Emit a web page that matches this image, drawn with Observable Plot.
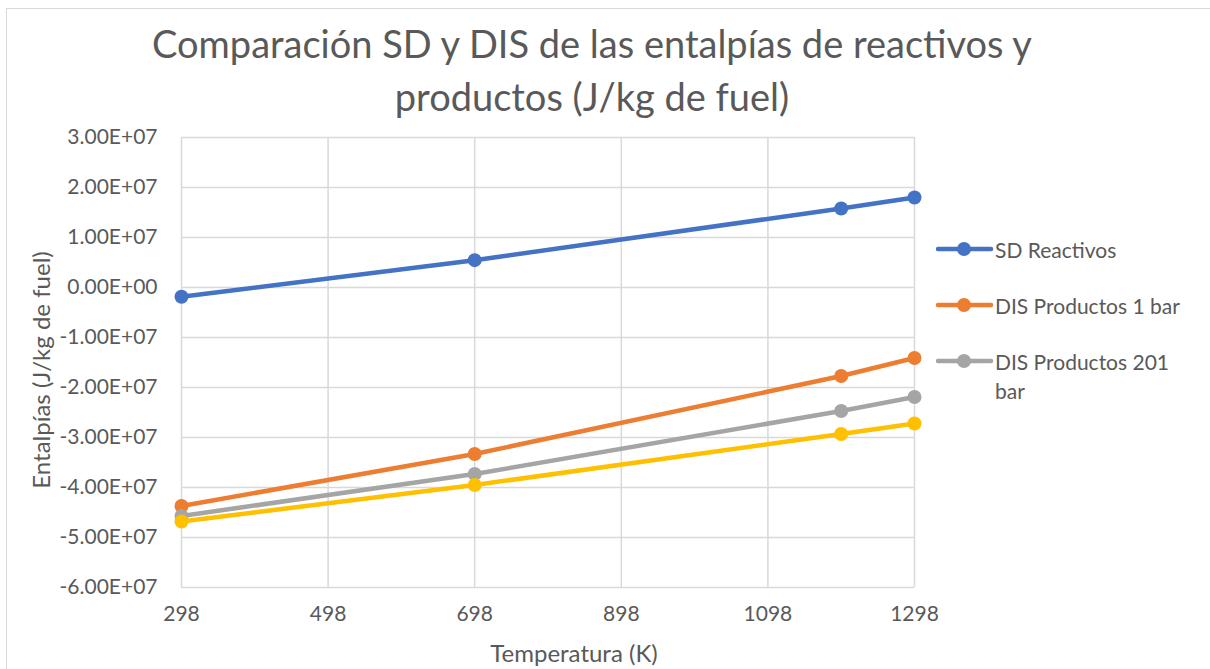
<!DOCTYPE html>
<html><head><meta charset="utf-8">
<script src="https://cdn.jsdelivr.net/npm/d3@7"></script>
<script src="https://cdn.jsdelivr.net/npm/@observablehq/plot@0.6"></script>
<style>
body{margin:0;background:#fff;font-family:Lato,"Noto Sans",sans-serif;color:#595959}
#wrap{position:relative;width:1210px;height:669px;overflow:hidden;background:#fff}
#frame{position:absolute;left:6px;top:8px;width:1240px;height:700px;border:1.5px solid #d9d9d9;box-sizing:border-box}
#chart{position:absolute;left:0;top:0}
#title{position:absolute;left:0;width:1184px;top:17px;text-align:center;font-size:38px;line-height:53px;font-weight:400;color:#595959}
#xlabel{position:absolute;left:424px;width:300px;top:638px;text-align:center;font-size:24px;color:#595959;white-space:nowrap}
#ylabel{position:absolute;left:40px;top:370px;font-size:24px;color:#595959;white-space:nowrap;transform:translate(-50%,-50%) rotate(-90deg)}
#legend{position:absolute;left:936px;top:235px}
.item{position:relative;height:56px}
.item svg{position:absolute;left:0;top:4px}
.item span{position:absolute;left:59px;top:0;font-size:21px;line-height:29px;width:200px;color:#595959}
</style></head>
<body>
<div id="wrap">
  <div id="frame"></div>
  <div id="chart"></div>
  <div id="title">Comparación SD y DIS de las entalpías de reactivos y<br>productos (J/kg de fuel)</div>
  <div id="xlabel">Temperatura (K)</div>
  <div id="ylabel">Entalpías (J/kg de fuel)</div>
  <div id="legend"></div>
</div>
<script>
const temps = [298, 698, 1198, 1298];
const seriesNames = ["SD Reactivos", "DIS Productos 1 bar", "DIS Productos 201 bar", "Serie 4"];
const sdReactivos = [-1.86e6, 5.47e6, 1.58e7, 1.80e7];
const disProductos1bar = [-4.37e7, -3.33e7, -1.77e7, -1.41e7];
const disProductos201bar = [-4.57e7, -3.73e7, -2.47e7, -2.19e7];
const serie4 = [-4.68e7, -3.95e7, -2.93e7, -2.72e7];
const seriesColors = ["#4472C4", "#ED7D31", "#A5A5A5", "#FFC000"];
const legendNames = ["SD Reactivos", "DIS Productos 1 bar", "DIS Productos 201 bar"];
const xTicks = [298, 498, 698, 898, 1098, 1298];
const yTicks = [-6e7, -5e7, -4e7, -3e7, -2e7, -1e7, 0, 1e7, 2e7, 3e7];

const allValues = [sdReactivos, disProductos1bar, disProductos201bar, serie4];
const data = [];
allValues.forEach((vals, i) => vals.forEach((v, j) => data.push({series: seriesNames[i], t: temps[j], h: v})));

function sci(v) {
  if (v === 0) return "0.00E+00";
  const s = v < 0 ? "-" : "";
  const a = Math.abs(v);
  const e = Math.floor(Math.log10(a) + 1e-9);
  const m = a / Math.pow(10, e);
  return s + m.toFixed(2) + "E" + (e >= 0 ? "+" : "-") + String(Math.abs(e)).padStart(2, "0");
}

const chart = Plot.plot({
  width: 1210, height: 669,
  marginLeft: 181, marginRight: 296, marginTop: 137, marginBottom: 82,
  style: {fontFamily: "Lato, 'Noto Sans', sans-serif", fontSize: "16px", color: "#595959", background: "transparent"},
  x: {domain: [298, 1298]},
  y: {domain: [-6e7, 3e7]},
  color: {domain: seriesNames, range: seriesColors},
  marks: [
    Plot.gridX(xTicks, {stroke: "#d9d9d9", strokeOpacity: 1, strokeWidth: 1.5}),
    Plot.gridY(yTicks, {stroke: "#d9d9d9", strokeOpacity: 1, strokeWidth: 1.5}),
    Plot.axisX(xTicks, {tickSize: 0, tickPadding: 19, label: null, tickFormat: d => String(d), fill: "#595959", fontSize: 21}),
    Plot.axisY(yTicks, {tickSize: 0, tickPadding: 24, label: null, tickFormat: sci, fill: "#595959", fontSize: 21}),
    Plot.line(data, {x: "t", y: "h", z: "series", stroke: "series", strokeWidth: 4.5, strokeLinejoin: "round", strokeLinecap: "round"}),
    Plot.dot(data, {x: "t", y: "h", fill: "series", r: 7})
  ]
});
document.getElementById("chart").appendChild(chart);

const legend = document.getElementById("legend");
legendNames.forEach(name => {
  const c = seriesColors[seriesNames.indexOf(name)];
  const div = document.createElement("div");
  div.className = "item";
  div.innerHTML = `<svg width="58" height="20"><line x1="2" x2="55" y1="10" y2="10" stroke="${c}" stroke-width="4.5" stroke-linecap="round"/><circle cx="28" cy="10" r="7" fill="${c}"/></svg><span>${name}</span>`;
  legend.appendChild(div);
});
</script>
</body></html>
